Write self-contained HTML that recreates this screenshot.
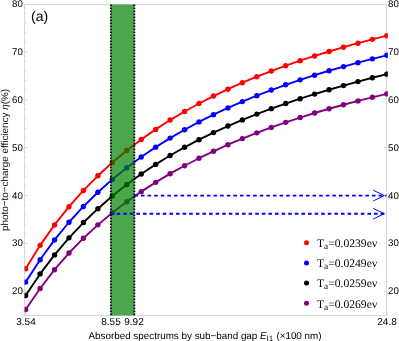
<!DOCTYPE html>
<html><head><meta charset="utf-8"><title>chart</title>
<style>
html,body{margin:0;padding:0;background:#fff}
#w{text-rendering:geometricPrecision;position:relative;width:399px;height:341px;overflow:hidden;background:#fff;font-family:"Liberation Sans",sans-serif;color:#000}
.t{position:absolute;white-space:nowrap;line-height:1;font-size:10px;will-change:transform}
.l{position:absolute;white-space:nowrap;line-height:1;will-change:transform;font-family:"Liberation Serif",serif;font-size:11.6px}
.l sub{font-size:0.8em;vertical-align:baseline;position:relative;top:0.17em}
</style>
</head><body><div id="w">
<svg width="399" height="341" viewBox="0 0 399 341" style="position:absolute;left:0;top:0">
<defs><clipPath id="c"><rect x="24.5" y="4.5" width="363.3" height="311"/></clipPath></defs>
<rect x="24.5" y="4.5" width="362" height="311" fill="none" stroke="#d8d8d8" stroke-width="1"/>
<path d="M24.5 310.46h1.9 M386.5 310.46h-1.1 M24.5 300.88h1.9 M386.5 300.88h-1.1 M24.5 291.30h3.3 M386.5 291.30h-2.5 M24.5 281.72h1.9 M386.5 281.72h-1.1 M24.5 272.14h1.9 M386.5 272.14h-1.1 M24.5 262.56h1.9 M386.5 262.56h-1.1 M24.5 252.98h1.9 M386.5 252.98h-1.1 M24.5 243.40h3.3 M386.5 243.40h-2.5 M24.5 233.82h1.9 M386.5 233.82h-1.1 M24.5 224.24h1.9 M386.5 224.24h-1.1 M24.5 214.66h1.9 M386.5 214.66h-1.1 M24.5 205.08h1.9 M386.5 205.08h-1.1 M24.5 195.50h3.3 M386.5 195.50h-2.5 M24.5 185.92h1.9 M386.5 185.92h-1.1 M24.5 176.34h1.9 M386.5 176.34h-1.1 M24.5 166.76h1.9 M386.5 166.76h-1.1 M24.5 157.18h1.9 M386.5 157.18h-1.1 M24.5 147.60h3.3 M386.5 147.60h-2.5 M24.5 138.02h1.9 M386.5 138.02h-1.1 M24.5 128.44h1.9 M386.5 128.44h-1.1 M24.5 118.86h1.9 M386.5 118.86h-1.1 M24.5 109.28h1.9 M386.5 109.28h-1.1 M24.5 99.70h3.3 M386.5 99.70h-2.5 M24.5 90.12h1.9 M386.5 90.12h-1.1 M24.5 80.54h1.9 M386.5 80.54h-1.1 M24.5 70.96h1.9 M386.5 70.96h-1.1 M24.5 61.38h1.9 M386.5 61.38h-1.1 M24.5 51.80h3.3 M386.5 51.80h-2.5 M24.5 42.22h1.9 M386.5 42.22h-1.1 M24.5 32.64h1.9 M386.5 32.64h-1.1 M24.5 23.06h1.9 M386.5 23.06h-1.1 M24.5 13.48h1.9 M386.5 13.48h-1.1 M24.5 4.50h3.3 M386.5 4.50h-2.5 M25.65 315.5v-3.3 M110.77 315.5v-3.3 M134.04 315.5v-3.3 M386.85 315.5v-3.3" stroke="#d8d8d8" stroke-width="1" fill="none"/>
<g clip-path="url(#c)">
<polyline points="25.65,268.63 40.10,245.35 54.55,224.90 68.99,206.71 83.44,190.44 97.89,175.80 112.34,162.55 126.79,150.50 141.23,139.46 155.68,129.38 170.13,120.07 184.58,111.48 199.03,103.51 213.47,96.07 227.92,89.21 242.37,82.73 256.82,76.68 271.27,71.02 285.71,65.69 300.16,60.70 314.61,55.94 329.06,51.48 343.51,47.21 357.95,43.18 372.40,39.34 386.85,35.69" fill="none" stroke="#ff0000" stroke-width="1.9" stroke-linejoin="round"/>
<circle cx="25.65" cy="268.63" r="2.7" fill="#ff0000"/>
<circle cx="40.10" cy="245.35" r="2.7" fill="#ff0000"/>
<circle cx="54.55" cy="224.90" r="2.7" fill="#ff0000"/>
<circle cx="68.99" cy="206.71" r="2.7" fill="#ff0000"/>
<circle cx="83.44" cy="190.44" r="2.7" fill="#ff0000"/>
<circle cx="97.89" cy="175.80" r="2.7" fill="#ff0000"/>
<circle cx="112.34" cy="162.55" r="2.7" fill="#ff0000"/>
<circle cx="126.79" cy="150.50" r="2.7" fill="#ff0000"/>
<circle cx="141.23" cy="139.46" r="2.7" fill="#ff0000"/>
<circle cx="155.68" cy="129.38" r="2.7" fill="#ff0000"/>
<circle cx="170.13" cy="120.07" r="2.7" fill="#ff0000"/>
<circle cx="184.58" cy="111.48" r="2.7" fill="#ff0000"/>
<circle cx="199.03" cy="103.51" r="2.7" fill="#ff0000"/>
<circle cx="213.47" cy="96.07" r="2.7" fill="#ff0000"/>
<circle cx="227.92" cy="89.21" r="2.7" fill="#ff0000"/>
<circle cx="242.37" cy="82.73" r="2.7" fill="#ff0000"/>
<circle cx="256.82" cy="76.68" r="2.7" fill="#ff0000"/>
<circle cx="271.27" cy="71.02" r="2.7" fill="#ff0000"/>
<circle cx="285.71" cy="65.69" r="2.7" fill="#ff0000"/>
<circle cx="300.16" cy="60.70" r="2.7" fill="#ff0000"/>
<circle cx="314.61" cy="55.94" r="2.7" fill="#ff0000"/>
<circle cx="329.06" cy="51.48" r="2.7" fill="#ff0000"/>
<circle cx="343.51" cy="47.21" r="2.7" fill="#ff0000"/>
<circle cx="357.95" cy="43.18" r="2.7" fill="#ff0000"/>
<circle cx="372.40" cy="39.34" r="2.7" fill="#ff0000"/>
<circle cx="386.85" cy="35.69" r="2.7" fill="#ff0000"/>
<polyline points="25.65,282.12 40.10,259.80 54.55,239.93 68.99,222.26 83.44,206.47 97.89,192.26 112.34,179.40 126.79,167.69 141.23,156.98 155.68,147.14 170.13,138.12 184.58,129.72 199.03,121.90 213.47,114.65 227.92,107.88 242.37,101.59 256.82,95.64 271.27,90.07 285.71,84.79 300.16,79.85 314.61,75.19 329.06,70.78 343.51,66.60 357.95,62.66 372.40,58.87 386.85,55.32" fill="none" stroke="#0000ff" stroke-width="1.9" stroke-linejoin="round"/>
<circle cx="25.65" cy="282.12" r="2.7" fill="#0000ff"/>
<circle cx="40.10" cy="259.80" r="2.7" fill="#0000ff"/>
<circle cx="54.55" cy="239.93" r="2.7" fill="#0000ff"/>
<circle cx="68.99" cy="222.26" r="2.7" fill="#0000ff"/>
<circle cx="83.44" cy="206.47" r="2.7" fill="#0000ff"/>
<circle cx="97.89" cy="192.26" r="2.7" fill="#0000ff"/>
<circle cx="112.34" cy="179.40" r="2.7" fill="#0000ff"/>
<circle cx="126.79" cy="167.69" r="2.7" fill="#0000ff"/>
<circle cx="141.23" cy="156.98" r="2.7" fill="#0000ff"/>
<circle cx="155.68" cy="147.14" r="2.7" fill="#0000ff"/>
<circle cx="170.13" cy="138.12" r="2.7" fill="#0000ff"/>
<circle cx="184.58" cy="129.72" r="2.7" fill="#0000ff"/>
<circle cx="199.03" cy="121.90" r="2.7" fill="#0000ff"/>
<circle cx="213.47" cy="114.65" r="2.7" fill="#0000ff"/>
<circle cx="227.92" cy="107.88" r="2.7" fill="#0000ff"/>
<circle cx="242.37" cy="101.59" r="2.7" fill="#0000ff"/>
<circle cx="256.82" cy="95.64" r="2.7" fill="#0000ff"/>
<circle cx="271.27" cy="90.07" r="2.7" fill="#0000ff"/>
<circle cx="285.71" cy="84.79" r="2.7" fill="#0000ff"/>
<circle cx="300.16" cy="79.85" r="2.7" fill="#0000ff"/>
<circle cx="314.61" cy="75.19" r="2.7" fill="#0000ff"/>
<circle cx="329.06" cy="70.78" r="2.7" fill="#0000ff"/>
<circle cx="343.51" cy="66.60" r="2.7" fill="#0000ff"/>
<circle cx="357.95" cy="62.66" r="2.7" fill="#0000ff"/>
<circle cx="372.40" cy="58.87" r="2.7" fill="#0000ff"/>
<circle cx="386.85" cy="55.32" r="2.7" fill="#0000ff"/>
<polyline points="25.65,295.56 40.10,273.91 54.55,254.90 68.99,237.86 83.44,222.55 97.89,208.68 112.34,196.06 126.79,184.54 141.23,174.02 155.68,164.38 170.13,155.50 184.58,147.29 199.03,139.70 213.47,132.60 227.92,126.02 242.37,119.88 256.82,114.12 271.27,108.65 285.71,103.56 300.16,98.71 314.61,94.10 329.06,89.74 343.51,85.61 357.95,81.62 372.40,77.78 386.85,74.14" fill="none" stroke="#000000" stroke-width="1.9" stroke-linejoin="round"/>
<circle cx="25.65" cy="295.56" r="2.7" fill="#000000"/>
<circle cx="40.10" cy="273.91" r="2.7" fill="#000000"/>
<circle cx="54.55" cy="254.90" r="2.7" fill="#000000"/>
<circle cx="68.99" cy="237.86" r="2.7" fill="#000000"/>
<circle cx="83.44" cy="222.55" r="2.7" fill="#000000"/>
<circle cx="97.89" cy="208.68" r="2.7" fill="#000000"/>
<circle cx="112.34" cy="196.06" r="2.7" fill="#000000"/>
<circle cx="126.79" cy="184.54" r="2.7" fill="#000000"/>
<circle cx="141.23" cy="174.02" r="2.7" fill="#000000"/>
<circle cx="155.68" cy="164.38" r="2.7" fill="#000000"/>
<circle cx="170.13" cy="155.50" r="2.7" fill="#000000"/>
<circle cx="184.58" cy="147.29" r="2.7" fill="#000000"/>
<circle cx="199.03" cy="139.70" r="2.7" fill="#000000"/>
<circle cx="213.47" cy="132.60" r="2.7" fill="#000000"/>
<circle cx="227.92" cy="126.02" r="2.7" fill="#000000"/>
<circle cx="242.37" cy="119.88" r="2.7" fill="#000000"/>
<circle cx="256.82" cy="114.12" r="2.7" fill="#000000"/>
<circle cx="271.27" cy="108.65" r="2.7" fill="#000000"/>
<circle cx="285.71" cy="103.56" r="2.7" fill="#000000"/>
<circle cx="300.16" cy="98.71" r="2.7" fill="#000000"/>
<circle cx="314.61" cy="94.10" r="2.7" fill="#000000"/>
<circle cx="329.06" cy="89.74" r="2.7" fill="#000000"/>
<circle cx="343.51" cy="85.61" r="2.7" fill="#000000"/>
<circle cx="357.95" cy="81.62" r="2.7" fill="#000000"/>
<circle cx="372.40" cy="77.78" r="2.7" fill="#000000"/>
<circle cx="386.85" cy="74.14" r="2.7" fill="#000000"/>
<polyline points="25.65,309.53 40.10,288.46 54.55,269.69 68.99,253.03 83.44,238.20 97.89,224.86 112.34,212.81 126.79,201.77 141.23,191.64 155.68,182.33 170.13,173.69 184.58,165.72 199.03,158.23 213.47,151.27 227.92,144.70 242.37,138.60 256.82,132.84 271.27,127.42 285.71,122.33 300.16,117.53 314.61,113.02 329.06,108.74 343.51,104.71 357.95,100.92 372.40,97.32 386.85,93.91" fill="none" stroke="#800080" stroke-width="1.9" stroke-linejoin="round"/>
<circle cx="25.65" cy="309.53" r="2.7" fill="#800080"/>
<circle cx="40.10" cy="288.46" r="2.7" fill="#800080"/>
<circle cx="54.55" cy="269.69" r="2.7" fill="#800080"/>
<circle cx="68.99" cy="253.03" r="2.7" fill="#800080"/>
<circle cx="83.44" cy="238.20" r="2.7" fill="#800080"/>
<circle cx="97.89" cy="224.86" r="2.7" fill="#800080"/>
<circle cx="112.34" cy="212.81" r="2.7" fill="#800080"/>
<circle cx="126.79" cy="201.77" r="2.7" fill="#800080"/>
<circle cx="141.23" cy="191.64" r="2.7" fill="#800080"/>
<circle cx="155.68" cy="182.33" r="2.7" fill="#800080"/>
<circle cx="170.13" cy="173.69" r="2.7" fill="#800080"/>
<circle cx="184.58" cy="165.72" r="2.7" fill="#800080"/>
<circle cx="199.03" cy="158.23" r="2.7" fill="#800080"/>
<circle cx="213.47" cy="151.27" r="2.7" fill="#800080"/>
<circle cx="227.92" cy="144.70" r="2.7" fill="#800080"/>
<circle cx="242.37" cy="138.60" r="2.7" fill="#800080"/>
<circle cx="256.82" cy="132.84" r="2.7" fill="#800080"/>
<circle cx="271.27" cy="127.42" r="2.7" fill="#800080"/>
<circle cx="285.71" cy="122.33" r="2.7" fill="#800080"/>
<circle cx="300.16" cy="117.53" r="2.7" fill="#800080"/>
<circle cx="314.61" cy="113.02" r="2.7" fill="#800080"/>
<circle cx="329.06" cy="108.74" r="2.7" fill="#800080"/>
<circle cx="343.51" cy="104.71" r="2.7" fill="#800080"/>
<circle cx="357.95" cy="100.92" r="2.7" fill="#800080"/>
<circle cx="372.40" cy="97.32" r="2.7" fill="#800080"/>
<circle cx="386.85" cy="93.91" r="2.7" fill="#800080"/>
</g>
<rect x="110.87" y="4.5" width="23.48" height="311" fill="#008000" fill-opacity="0.7"/>
<line x1="110.87" y1="4.5" x2="110.87" y2="315.5" stroke="#000" stroke-width="1.8" stroke-dasharray="1.7 1.3"/>
<line x1="134.34" y1="4.5" x2="134.34" y2="315.5" stroke="#000" stroke-width="1.8" stroke-dasharray="1.7 1.3"/>
<line x1="134.34" y1="195.6" x2="386.5" y2="195.6" stroke="#0000ff" stroke-width="1.9" stroke-dasharray="3.6 3.0"/>
<line x1="110.00" y1="213.7" x2="385" y2="213.7" stroke="#0000ff" stroke-width="1.9" stroke-dasharray="3.6 3.0"/>
<polyline points="373.3,190.3 384.3,195.6 373.3,200.9" fill="none" stroke="#0000ff" stroke-width="1"/>
<polyline points="373.3,208.4 384.3,213.7 373.3,219" fill="none" stroke="#0000ff" stroke-width="1"/>
<circle cx="306.5" cy="242.7" r="2.5" fill="#ff0000"/>
<circle cx="306.5" cy="262.9" r="2.5" fill="#0000ff"/>
<circle cx="306.5" cy="283.1" r="2.5" fill="#000000"/>
<circle cx="306.5" cy="303.3" r="2.5" fill="#800080"/>
</svg>
<div class="t" style="right:375.8px;top:292.19px;font-size:9.7px;transform:translateY(-50%)">20</div>
<div class="t" style="right:375.8px;top:244.38px;font-size:9.7px;transform:translateY(-50%)">30</div>
<div class="t" style="right:375.8px;top:196.56px;font-size:9.7px;transform:translateY(-50%)">40</div>
<div class="t" style="right:375.8px;top:148.75px;font-size:9.7px;transform:translateY(-50%)">50</div>
<div class="t" style="right:375.8px;top:100.93px;font-size:9.7px;transform:translateY(-50%)">60</div>
<div class="t" style="right:375.8px;top:53.12px;font-size:9.7px;transform:translateY(-50%)">70</div>
<div class="t" style="right:375.8px;top:5.30px;font-size:9.7px;transform:translateY(-50%)">80</div>
<div class="t" style="left:388.1px;top:292.19px;font-size:9.7px;transform:translateY(-50%)">20</div>
<div class="t" style="left:388.1px;top:244.38px;font-size:9.7px;transform:translateY(-50%)">30</div>
<div class="t" style="left:388.1px;top:196.56px;font-size:9.7px;transform:translateY(-50%)">40</div>
<div class="t" style="left:388.1px;top:148.75px;font-size:9.7px;transform:translateY(-50%)">50</div>
<div class="t" style="left:388.1px;top:100.93px;font-size:9.7px;transform:translateY(-50%)">60</div>
<div class="t" style="left:388.1px;top:53.12px;font-size:9.7px;transform:translateY(-50%)">70</div>
<div class="t" style="left:388.1px;top:5.30px;font-size:9.7px;transform:translateY(-50%)">80</div>
<div class="t" style="left:25.65px;top:317.7px;transform:translateX(-50%)">3.54</div>
<div class="t" style="left:110.77px;top:317.7px;transform:translateX(-50%)">8.55</div>
<div class="t" style="left:134.04px;top:317.7px;transform:translateX(-50%)">9.92</div>
<div class="t" style="left:386.85px;top:317.7px;transform:translateX(-50%)">24.8</div>
<div class="t" style="left:205.2px;top:331.8px;font-size:9.85px;transform:translateX(-50%)">Absorbed spectrums by sub−band gap <i>E</i><span style="font-size:0.76em;letter-spacing:0.08em;position:relative;top:0.24em">l1</span> (×100 nm)</div>
<div class="t" style="left:6.3px;top:160px;font-size:9.9px;transform:translate(-50%,-50%) rotate(-90deg)">photo−to−charge efficiency <i>η</i>(%)</div>
<div class="t" style="left:30.8px;top:9.3px;font-size:14px">(a)</div>
<div class="l" style="left:316.9px;top:237.9px">T<sub>a</sub>=0.0239ev</div>
<div class="l" style="left:316.9px;top:258.1px">T<sub>a</sub>=0.0249ev</div>
<div class="l" style="left:316.9px;top:278.3px">T<sub>a</sub>=0.0259ev</div>
<div class="l" style="left:316.9px;top:298.5px">T<sub>a</sub>=0.0269ev</div>
</div></body></html>
